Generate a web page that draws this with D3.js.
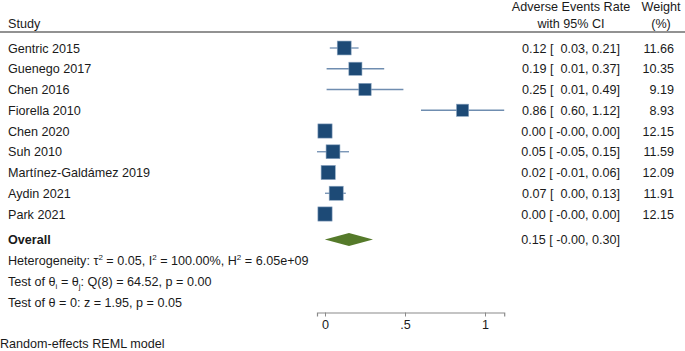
<!DOCTYPE html>
<html>
<head>
<meta charset="utf-8">
<script src="https://cdn.jsdelivr.net/npm/d3@7"></script>
<style>
  body { margin: 0; background: #fff; }
  text { font-family: "Liberation Sans", Arial, sans-serif; font-size: 12.6px; fill: #1a1a1a; white-space: pre; }
</style>
</head>
<body>
<div id="the_chart"></div>
<script>
// study rows
var studies = ["Gentric 2015", "Guenego 2017", "Chen 2016", "Fiorella 2010", "Chen 2020",
               "Suh 2010", "Martínez-Galdámez 2019", "Aydin 2021", "Park 2021"];
var rates   = [0.12, 0.19, 0.25, 0.86, 0.00, 0.05, 0.02, 0.07, 0.00];
var lower   = [0.03, 0.01, 0.01, 0.60, -0.001, -0.05, -0.01, 0.00, -0.001];
var upper   = [0.21, 0.37, 0.49, 1.12, 0.00, 0.15, 0.06, 0.13, 0.00];
var weights = [11.66, 10.35, 9.19, 8.93, 12.15, 11.59, 12.09, 11.91, 12.15];

var overall = {rate: 0.15, lower: -0.001, upper: 0.30};
var xTicks = [0, 0.5, 1];
var xTickLabels = ["0", ".5", "1"];

var w = 685, h = 351;

var svg = d3.select("#the_chart")
            .append("svg")
            .attr("width", w)
            .attr("height", h);

var xscale = d3.scaleLinear()
               .domain([-0.05, 1.12])
               .range([317, 504.2]);

var yscale = d3.scalePoint()
               .domain(studies)
               .range([48, 214]);

var sizeScale = d3.scaleSqrt()
                  .domain([0, 12.15])
                  .range([0, 14.2]);

// stata-like fixed width: sign slot before the lower bound
function fmtLo(v) { return (v < 0 ? "-" : " ") + Math.abs(v).toFixed(2); }
function ciText(r, lo, hi) { return r.toFixed(2) + " [ " + fmtLo(lo) + ", " + hi.toFixed(2) + "]"; }

// header
svg.append("text").attr("x", 8).attr("y", 28).text("Study");
svg.append("text").attr("x", 571).attr("y", 11).attr("text-anchor", "middle").text("Adverse Events Rate");
svg.append("text").attr("x", 571).attr("y", 28).attr("text-anchor", "middle").text("with 95% CI");
svg.append("text").attr("x", 661).attr("y", 11).attr("text-anchor", "middle").text("Weight");
svg.append("text").attr("x", 661).attr("y", 28).attr("text-anchor", "middle").text("(%)");

svg.append("line")
   .attr("x1", 0).attr("x2", w)
   .attr("y1", 32).attr("y2", 32)
   .attr("stroke", "#6e6e6e").attr("stroke-width", 1.5);

var rows = studies.map(function(s, i) {
  return {study: s, rate: rates[i], lo: lower[i], hi: upper[i], weight: weights[i]};
});

// CI lines
svg.selectAll("line.ci")
   .data(rows)
 .enter().append("line")
   .attr("class", "ci")
   .attr("x1", function(d) { return xscale(d.lo); })
   .attr("x2", function(d) { return xscale(d.hi); })
   .attr("y1", function(d) { return yscale(d.study); })
   .attr("y2", function(d) { return yscale(d.study); })
   .attr("stroke", "#6f8db0")
   .attr("stroke-width", 1.3);

// squares, area ~ weight
svg.selectAll("rect.box")
   .data(rows)
 .enter().append("rect")
   .attr("class", "box")
   .attr("width", function(d) { return sizeScale(d.weight); })
   .attr("height", function(d) { return sizeScale(d.weight); })
   .attr("x", function(d) { return xscale(d.rate) - sizeScale(d.weight) / 2; })
   .attr("y", function(d) { return yscale(d.study) - sizeScale(d.weight) / 2; })
   .attr("fill", "#1d4a76")
   .attr("stroke", "#8aa4c0")
   .attr("stroke-width", 0.6);

// text columns
svg.selectAll("text.study")
   .data(rows)
 .enter().append("text")
   .attr("class", "study")
   .attr("x", 8)
   .attr("y", function(d) { return yscale(d.study) + 4.5; })
   .text(function(d) { return d.study; });

svg.selectAll("text.es")
   .data(rows)
 .enter().append("text")
   .attr("class", "es")
   .attr("x", 620)
   .attr("text-anchor", "end")
   .attr("y", function(d) { return yscale(d.study) + 4.5; })
   .text(function(d) { return ciText(d.rate, d.lo, d.hi); });

svg.selectAll("text.wt")
   .data(rows)
 .enter().append("text")
   .attr("class", "wt")
   .attr("x", 674)
   .attr("text-anchor", "end")
   .attr("y", function(d) { return yscale(d.study) + 4.5; })
   .text(function(d) { return d.weight.toFixed(2); });

// overall
var oy = 239.5;
svg.append("polygon")
   .attr("points", [
      [xscale(overall.lower), oy],
      [xscale(overall.rate), oy - 6.5],
      [xscale(overall.upper), oy],
      [xscale(overall.rate), oy + 6.5]
   ].map(function(p) { return p.join(","); }).join(" "))
   .attr("fill", "#557a2a");

svg.append("text").attr("x", 8).attr("y", oy + 4.5)
   .style("font-weight", "bold").text("Overall");
svg.append("text").attr("x", 620).attr("y", oy + 4.5).attr("text-anchor", "end")
   .text(ciText(overall.rate, overall.lower, overall.upper));

// heterogeneity lines
var het = svg.append("text").attr("x", 8).attr("y", 265);
het.append("tspan").text("Heterogeneity: τ");
het.append("tspan").attr("dy", -5).style("font-size", "8px").text("2");
het.append("tspan").attr("dy", 5).text(" = 0.05, I");
het.append("tspan").attr("dy", -5).style("font-size", "8px").text("2");
het.append("tspan").attr("dy", 5).text(" = 100.00%, H");
het.append("tspan").attr("dy", -5).style("font-size", "8px").text("2");
het.append("tspan").attr("dy", 5).text(" = 6.05e+09");

var q = svg.append("text").attr("x", 8).attr("y", 286);
q.append("tspan").text("Test of θ");
q.append("tspan").attr("dy", 3).style("font-size", "8px").text("i");
q.append("tspan").attr("dy", -3).text(" = θ");
q.append("tspan").attr("dy", 3).style("font-size", "8px").text("j");
q.append("tspan").attr("dy", -3).text(": Q(8) = 64.52, p = 0.00");

svg.append("text").attr("x", 8).attr("y", 307).text("Test of θ = 0: z = 1.95, p = 0.05");

// x axis
var xaxis = d3.axisBottom()
              .scale(xscale)
              .tickValues(xTicks)
              .tickSizeOuter(0)
              .tickSize(4)
              .tickFormat(function(d, i) { return xTickLabels[i]; });

var gX = svg.append("g")
   .attr("transform", "translate(0,312.5)")
   .call(xaxis);
gX.select(".domain").attr("stroke", "#8a8a8a").attr("stroke-width", 1.2);
gX.selectAll(".tick line").attr("stroke", "#8a8a8a");
gX.selectAll(".tick text")
  .attr("y", 8)
  .style("font-family", "Liberation Sans, Arial, sans-serif")
  .style("font-size", "12.6px")
  .attr("fill", "#1a1a1a");

svg.append("text").attr("x", 0).attr("y", 348).text("Random-effects REML model");
</script>
</body>
</html>
